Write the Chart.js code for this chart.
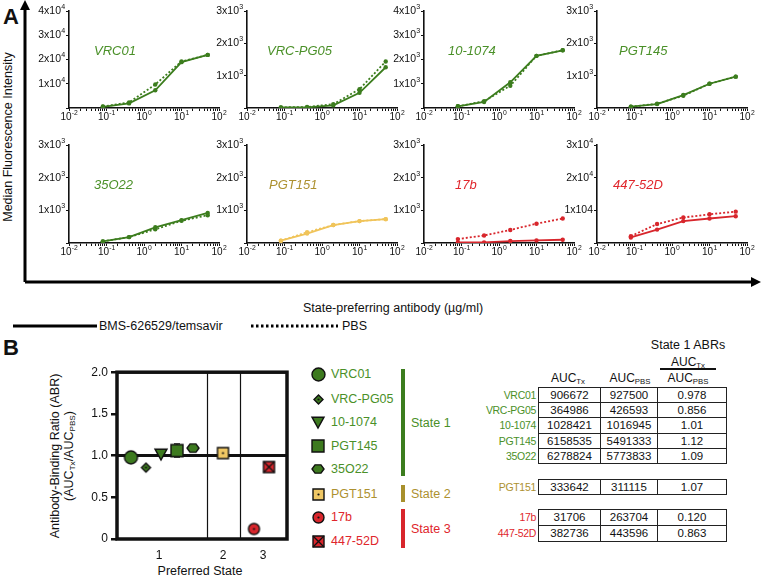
<!DOCTYPE html>
<html>
<head>
<meta charset="utf-8">
<script src="https://cdn.jsdelivr.net/npm/chart.js@4.4.1/dist/chart.umd.min.js"></script>
<style>
  body { margin: 0; background: #fff; font-family: "Liberation Sans", Arial, sans-serif; color: #111; }
  #page { position: relative; width: 762px; height: 578px; overflow: hidden; }
  #page canvas { position: absolute; }
  .t { position: absolute; white-space: nowrap; line-height: 1; }
  .plabel { font-style: italic; font-size: 13px; transform: translateY(-50%); }
  .panelA { font-weight: bold; font-size: 22px; }
  .cell { position: absolute; border: 1px solid #222; box-sizing: border-box; font-size: 11.5px; text-align: center; }
  .rname { position: absolute; font-size: 10.5px; letter-spacing: -0.3px; text-align: right; width: 90px; }
  sub { font-size: 0.65em; vertical-align: -0.25em; line-height: 0; }
</style>
</head>
<body>
<div id="page">
  <svg width="762" height="578" style="position:absolute;left:0;top:0">
    <!-- panel A frame arrows -->
    <line x1="25" y1="282" x2="25" y2="8" stroke="#000" stroke-width="3"/>
    <polygon points="25,0 20,10 30,10" fill="#000"/>
    <line x1="25" y1="282" x2="752" y2="282" stroke="#000" stroke-width="3"/>
    <polygon points="761,282 751,277 751,287" fill="#000"/>
    <!-- line style legend -->
    <line x1="13" y1="326" x2="97" y2="326" stroke="#000" stroke-width="3"/>
    <line x1="251" y1="326" x2="338" y2="326" stroke="#000" stroke-width="3" stroke-dasharray="2.5,2.5"/>
  </svg>
  <div class="t panelA" style="left:3px;top:6px">A</div>
  <div class="t panelA" style="left:3px;top:337px">B</div>
  <div class="t" style="left:8px;top:137px;font-size:12.5px;transform:translate(-50%,-50%) rotate(-90deg)">Median Fluorescence Intensity</div>
  <div class="t" style="left:393px;top:308px;font-size:12.5px;transform:translate(-50%,-50%)">State-preferring antibody (µg/ml)</div>
  <div class="t" style="left:99px;top:326px;font-size:12.5px;transform:translateY(-50%)">BMS-626529/temsavir</div>
  <div class="t" style="left:342px;top:326px;font-size:12.5px;transform:translateY(-50%)">PBS</div>

  <div class="t" style="left:55px;top:456px;font-size:12.5px;transform:translate(-50%,-50%) rotate(-90deg)">Antibody-Binding Ratio (ABR)</div>
  <div class="t" style="left:69px;top:456px;font-size:12.5px;transform:translate(-50%,-50%) rotate(-90deg)">(AUC<sub>Tx</sub>/AUC<sub>PBS</sub>)</div>
  <div class="t" style="left:200px;top:571px;font-size:12.5px;transform:translate(-50%,-50%)">Preferred State</div>

  <div class="t" style="left:688px;top:345px;font-size:12.5px;transform:translate(-50%,-50%)">State 1 ABRs</div>
  <div class="t" style="left:688px;top:362px;font-size:12px;transform:translate(-50%,-50%)">AUC<sub>Tx</sub></div>
  <div style="position:absolute;left:660px;top:368px;width:56px;height:1.5px;background:#111"></div>
  <div class="t" style="left:688px;top:378px;font-size:12px;transform:translate(-50%,-50%)">AUC<sub>PBS</sub></div>
  <div class="t" style="left:568px;top:378px;font-size:12px;transform:translate(-50%,-50%)">AUC<sub>Tx</sub></div>
  <div class="t" style="left:630px;top:378px;font-size:12px;transform:translate(-50%,-50%)">AUC<sub>PBS</sub></div>
</div>

<script>
// ---- panel A data (dilution series, µg/ml) ----
const conc = [0.08, 0.4, 2, 10, 50];
const vrc01Tx = [500, 1900, 7300, 18900, 21900];
const vrc01Pbs = [600, 2300, 9700, 19200, 21900];
const vrcpg05Tx = [20, 20, 80, 470, 1260];
const vrcpg05Pbs = [20, 30, 120, 580, 1440];
const ab101074Tx = [70, 250, 1060, 2150, 2380];
const ab101074Pbs = [70, 280, 920, 2150, 2380];
const pgt145Tx = [40, 120, 400, 750, 970];
const pgt145Pbs = [40, 130, 380, 750, 970];
const ab35o22Tx = [50, 180, 480, 700, 920];
const ab35o22Pbs = [50, 180, 420, 680, 850];
const pgt151Tx = [70, 290, 550, 670, 730];
const pgt151Pbs = [70, 330, 550, 670, 730];
const ab17bTx = [20, 20, 60, 80, 100];
const ab17bPbs = [120, 230, 400, 590, 750];
const ab447Tx = [1700, 4100, 6700, 7500, 8200];
const ab447Pbs = [2100, 5800, 7800, 8800, 9600];

// tick labels, "^" marks the superscript part
const yLabels4e4 = ['', '1x10^4', '2x10^4', '3x10^4', '4x10^4'];
const yLabels4e3 = ['', '1x10^3', '2x10^3', '3x10^3', '4x10^3'];
const yLabels3e3 = ['', '1x10^3', '2x10^3', '3x10^3'];
const yLabels447 = ['', '1x104', '2x10^4', '3x10^4'];
const xDecadeLabels = ['10^-2', '10^-1', '10^0', '10^1', '10^2'];

// ---- panel B data ----
const abNames = ['VRC01', 'VRC-PG05', '10-1074', 'PGT145', '35O22', 'PGT151', '17b', '447-52D'];
const abState = [1, 1, 1, 1, 1, 2, 3, 3];
const abrX = [1.4, 2.9, 4.4, 6.0, 7.6, 10.6, 13.7, 15.2];
const abrY = [0.978, 0.856, 1.02, 1.06, 1.09, 1.03, 0.12, 0.863];
const abrErr = [0, 0, 0, 0.08, 0, 0, 0, 0];
const stateTickPos = [4.2, 10.6, 14.6];
const stateTickLabels = ['1', '2', '3'];
const stateDividers = [9.0, 12.3];
const abrRefLine = 1.0;
const abrTickLabels = ['0', '0.5', '1.0', '1.5', '2.0'];

const aucTx = ['906672', '364986', '1028421', '6158535', '6278824', '333642', '31706', '382736'];
const aucPbs = ['927500', '426593', '1016945', '5491333', '5773833', '311115', '263704', '443596'];
const abrTable = ['0.978', '0.856', '1.01', '1.12', '1.09', '1.07', '0.120', '0.863'];

// colours
const lineColor = { 1: '#3c7d1e', 2: '#f0c45a', 3: '#d8262c' };
const textColor = { 1: '#4a9028', 2: '#ad9130', 3: '#e0262c' };
const markerFill = { 1: '#3d7a1f', 2: '#efc764', 3: '#d8262c' };

const page = document.getElementById('page');
const FONT = '"Liberation Sans", Arial, sans-serif';

// minor + major ticks for the log axis
function logTicks() {
  const out = [];
  for (let e = -2; e < 2; e++) {
    for (let m = 1; m <= 9; m++) out.push({ value: Number((m * Math.pow(10, e)).toPrecision(3)) });
  }
  out.push({ value: 100 });
  return out;
}

function decadeIndex(v) {
  const e = Math.log10(v);
  if (Math.abs(e - Math.round(e)) < 1e-6) return Math.round(e) + 2;
  return -1;
}

// draws "base^sup" with a raised smaller part; align: 'right' or 'center'
function drawPow(ctx, label, x, y, size, align) {
  const [base, sup] = label.split('^');
  ctx.font = `${size}px ${FONT}`;
  const wb = ctx.measureText(base).width;
  ctx.font = `${size * 0.68}px ${FONT}`;
  const ws = sup ? ctx.measureText(sup).width : 0;
  const total = wb + ws;
  let x0 = align === 'right' ? x - total : x - total / 2;
  ctx.textBaseline = 'middle';
  ctx.textAlign = 'left';
  ctx.fillStyle = '#111';
  ctx.font = `${size}px ${FONT}`;
  ctx.fillText(base, x0, y);
  if (sup) {
    ctx.font = `${size * 0.68}px ${FONT}`;
    ctx.fillText(sup, x0 + wb + 0.3, y - size * 0.38);
  }
}

const powLabels = {
  id: 'powLabels',
  afterDraw(chart, args, opts) {
    const { ctx, chartArea: a, scales: { x, y } } = chart;
    ctx.save();
    y.ticks.forEach((t, i) => {
      const lab = opts.yLabels[i];
      if (lab) drawPow(ctx, lab, a.left - 4, y.getPixelForTick(i), 10.5, 'right');
    });
    x.ticks.forEach((t, i) => {
      const d = decadeIndex(t.value);
      if (d >= 0) drawPow(ctx, xDecadeLabels[d], x.getPixelForTick(i), a.bottom + 9, 10, 'center');
    });
    ctx.restore();
  },
};

function makePanel(L, T, B, name, state, tx, pbs, yMax, yStep, yLabels) {
  const cv = document.createElement('canvas');
  const w = 45 + 150 + 12, h = 8 + (B - T) + 20;
  cv.width = w; cv.height = h;
  cv.style.left = (L - 45) + 'px';
  cv.style.top = (T - 8) + 'px';
  page.appendChild(cv);

  const col = lineColor[state];
  const series = (arr) => conc.map((c, i) => ({ x: c, y: arr[i] }));
  new Chart(cv, {
    type: 'line',
    data: {
      datasets: [
        { data: series(pbs), borderColor: col, backgroundColor: col, borderWidth: 1.8, borderDash: [2, 2], pointRadius: 2.2, pointBorderWidth: 0 },
        { data: series(tx), borderColor: col, backgroundColor: col, borderWidth: 1.8, pointRadius: 2.2, pointBorderWidth: 0 },
      ],
    },
    options: {
      responsive: false,
      animation: false,
      layout: { padding: { top: 8, right: 12 } },
      plugins: { legend: { display: false }, tooltip: { enabled: false }, powLabels: { yLabels } },
      scales: {
        x: {
          type: 'logarithmic', min: 0.01, max: 100,
          afterBuildTicks: (s) => { s.ticks = logTicks(); },
          afterFit: (s) => { s.height = 20; },
          ticks: { autoSkip: false, maxRotation: 0, color: 'rgba(0,0,0,0)', font: { size: 10, family: FONT }, callback: () => '' },
          grid: { drawOnChartArea: false, tickLength: 3, color: '#111', lineWidth: 1 },
          border: { color: '#111', width: 1.6 },
        },
        y: {
          min: 0, max: yMax,
          afterFit: (s) => { s.width = 45; },
          ticks: { stepSize: yStep, color: 'rgba(0,0,0,0)', font: { size: 10, family: FONT }, callback: () => '' },
          grid: { drawOnChartArea: false, tickLength: 3, color: '#111', lineWidth: 1 },
          border: { color: '#111', width: 1.6 },
        },
      },
    },
    plugins: [powLabels],
  });

  const lab = document.createElement('div');
  lab.className = 't plabel';
  lab.textContent = name;
  lab.style.color = textColor[state];
  page.appendChild(lab);
  return lab;
}

// panel layout: left edge of plot, top, bottom
const row1 = [10, 108], row2 = [144, 243];
const cols = [69, 247, 424, 597];
const labOffsets = [25, 20, 24, 22, 25, 22, 31, 16];

const panels = [
  [vrc01Tx, vrc01Pbs, 40000, 10000, yLabels4e4],
  [vrcpg05Tx, vrcpg05Pbs, 3000, 1000, yLabels3e3],
  [ab101074Tx, ab101074Pbs, 4000, 1000, yLabels4e3],
  [pgt145Tx, pgt145Pbs, 3000, 1000, yLabels3e3],
  [ab35o22Tx, ab35o22Pbs, 3000, 1000, yLabels3e3],
  [pgt151Tx, pgt151Pbs, 3000, 1000, yLabels3e3],
  [ab17bTx, ab17bPbs, 3000, 1000, yLabels3e3],
  [ab447Tx, ab447Pbs, 30000, 10000, yLabels447],
];
panels.forEach((p, i) => {
  const row = i < 4 ? row1 : row2;
  const L = cols[i % 4];
  const lab = makePanel(L, row[0], row[1], abNames[i], abState[i], p[0], p[1], p[2], p[3], p[4]);
  lab.style.left = (L + labOffsets[i]) + 'px';
  lab.style.top = (row[0] + 40) + 'px';
});

// ---- custom marker glyphs ----
const markerShape = ['circle', 'diamond', 'tri', 'square', 'hex', 'square', 'circle', 'square'];
const markerInner = ['', 'dot', '', '', '', 'dot', 'dot', 'x'];
const markerSize = [13, 9, 12, 12, 12, 11, 11, 11];

function makeMarker(i) {
  const size = markerSize[i];
  const c = document.createElement('canvas');
  const s = size + 4;
  c.width = s; c.height = s;
  const g = c.getContext('2d');
  const m = s / 2, r = size / 2;
  g.fillStyle = markerFill[abState[i]];
  g.strokeStyle = '#111';
  g.lineWidth = 1.4;
  g.beginPath();
  const shape = markerShape[i];
  if (shape === 'circle') g.arc(m, m, r, 0, Math.PI * 2);
  else if (shape === 'square') g.rect(m - r, m - r, size, size);
  else if (shape === 'diamond') { g.moveTo(m, m - r); g.lineTo(m + r, m); g.lineTo(m, m + r); g.lineTo(m - r, m); g.closePath(); }
  else if (shape === 'tri') { g.moveTo(m - r, m - r * 0.8); g.lineTo(m + r, m - r * 0.8); g.lineTo(m, m + r); g.closePath(); }
  else if (shape === 'hex') {
    for (let k = 0; k < 6; k++) {
      const a = k * Math.PI / 3;
      const x = m + r * Math.cos(a), y = m + r * 0.8 * Math.sin(a);
      if (k === 0) g.moveTo(x, y); else g.lineTo(x, y);
    }
    g.closePath();
  }
  g.fill(); g.stroke();
  if (markerInner[i] === 'dot') { g.fillStyle = '#111'; g.beginPath(); g.arc(m, m, 1.1, 0, Math.PI * 2); g.fill(); }
  if (markerInner[i] === 'x') {
    g.beginPath(); g.moveTo(m - r, m - r); g.lineTo(m + r, m + r); g.moveTo(m + r, m - r); g.lineTo(m - r, m + r); g.stroke();
  }
  return c;
}

// ---- panel B scatter ----
const abrPlugin = {
  id: 'abrDecor',
  beforeDatasetsDraw(chart) {
    const { ctx, chartArea: a, scales: { x, y } } = chart;
    ctx.save();
    ctx.strokeStyle = '#111';
    ctx.lineWidth = 1.2;
    stateDividers.forEach((d) => {
      const px = Math.round(x.getPixelForValue(d)) + 0.5;
      ctx.beginPath(); ctx.moveTo(px, a.top); ctx.lineTo(px, a.bottom); ctx.stroke();
    });
    ctx.lineWidth = 3;
    const py = y.getPixelForValue(abrRefLine);
    ctx.beginPath(); ctx.moveTo(a.left, py); ctx.lineTo(a.right, py); ctx.stroke();
    // error bars
    ctx.lineWidth = 1.2;
    abrErr.forEach((e, i) => {
      if (!e) return;
      const px = x.getPixelForValue(abrX[i]);
      const y1 = y.getPixelForValue(abrY[i] + e), y2 = y.getPixelForValue(abrY[i] - e);
      ctx.beginPath(); ctx.moveTo(px, y1); ctx.lineTo(px, y2);
      ctx.moveTo(px - 3, y1); ctx.lineTo(px + 3, y1);
      ctx.moveTo(px - 3, y2); ctx.lineTo(px + 3, y2); ctx.stroke();
    });
    ctx.restore();
  },
  afterDraw(chart) {
    const { ctx, chartArea: a } = chart;
    ctx.save();
    ctx.strokeStyle = '#111';
    ctx.lineWidth = 3.5;
    ctx.strokeRect(a.left, a.top, a.right - a.left, a.bottom - a.top);
    ctx.restore();
  },
};

const sc = document.createElement('canvas');
sc.width = 40 + 170 + 8; sc.height = 10 + 167 + 30;
sc.style.left = '77px'; sc.style.top = '362px';
page.appendChild(sc);

new Chart(sc, {
  type: 'scatter',
  data: {
    datasets: [{
      data: abrX.map((v, i) => ({ x: v, y: abrY[i] })),
      pointStyle: abNames.map((n, i) => makeMarker(i)),
      pointRadius: 6,
    }],
  },
  options: {
    responsive: false,
    animation: false,
    layout: { padding: { top: 10, right: 8 } },
    plugins: { legend: { display: false }, tooltip: { enabled: false } },
    scales: {
      x: {
        type: 'linear', min: 0, max: 17,
        afterBuildTicks: (s) => { s.ticks = stateTickPos.map((v) => ({ value: v })); },
        afterFit: (s) => { s.height = 30; },
        ticks: { padding: 1, color: '#111', font: { size: 12, family: FONT }, callback: (v, i) => stateTickLabels[i] },
        grid: { display: false },
        border: { display: false },
      },
      y: {
        min: 0, max: 2,
        afterFit: (s) => { s.width = 40; },
        ticks: { stepSize: 0.5, padding: 3, color: '#111', font: { size: 12, family: FONT }, callback: (v, i) => abrTickLabels[i] },
        grid: { drawOnChartArea: false, tickLength: 6, lineWidth: 2.5, color: '#111' },
        border: { display: false },
      },
    },
  },
  plugins: [abrPlugin],
});

// ---- marker legend + state bars ----
const legendY = [374, 399, 422, 446, 469, 494, 517, 541];
abNames.forEach((n, i) => {
  const m = makeMarker(i);
  m.style.left = (318 - m.width / 2) + 'px';
  m.style.top = (legendY[i] - m.height / 2) + 'px';
  page.appendChild(m);
  const d = document.createElement('div');
  d.className = 't';
  d.style.cssText = `left:331px;top:${legendY[i]}px;font-size:12.5px;transform:translateY(-50%);color:${textColor[abState[i]]}`;
  d.textContent = n;
  page.appendChild(d);
});
const stateBars = [[369, 476, 1, 'State 1'], [485, 502, 2, 'State 2'], [509, 548, 3, 'State 3']];
stateBars.forEach(([t, b, s, txt]) => {
  const bar = document.createElement('div');
  bar.style.cssText = `position:absolute;left:401px;top:${t}px;width:4px;height:${b - t}px;background:${s === 2 ? '#a8902c' : lineColor[s]}`;
  page.appendChild(bar);
  const d = document.createElement('div');
  d.className = 't';
  d.style.cssText = `left:411px;top:${(t + b) / 2}px;font-size:12.5px;transform:translateY(-50%);color:${textColor[s]}`;
  d.textContent = txt;
  page.appendChild(d);
});

// ---- AUC table ----
const colEdges = [538, 600, 657, 726];
const rowTops = [387, 402.2, 417.4, 432.6, 447.8, 479, 509, 525];
const rowH = [15.2, 15.2, 15.2, 15.2, 15.2, 15.2, 16, 16];
abNames.forEach((n, i) => {
  const vals = [aucTx[i], aucPbs[i], abrTable[i]];
  vals.forEach((v, k) => {
    const c = document.createElement('div');
    c.className = 'cell';
    c.style.left = colEdges[k] + 'px';
    c.style.top = rowTops[i] + 'px';
    c.style.width = (colEdges[k + 1] - colEdges[k] + 1) + 'px';
    c.style.height = (rowH[i] + 1) + 'px';
    c.style.lineHeight = (rowH[i] - 1) + 'px';
    c.textContent = v;
    page.appendChild(c);
  });
  const r = document.createElement('div');
  r.className = 'rname';
  r.style.left = (536 - 90) + 'px';
  r.style.top = rowTops[i] + 'px';
  r.style.lineHeight = (rowH[i] + 1) + 'px';
  r.style.color = textColor[abState[i]];
  r.textContent = n;
  page.appendChild(r);
});
</script>
</body>
</html>
